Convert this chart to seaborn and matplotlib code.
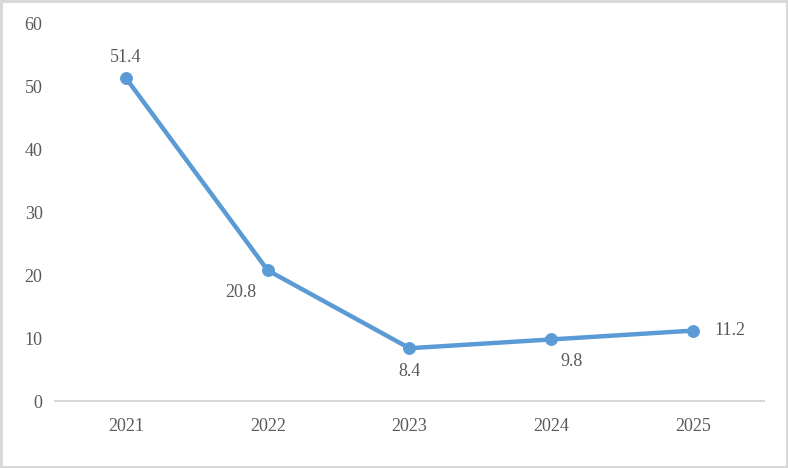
import matplotlib
matplotlib.use("Agg")
import matplotlib.pyplot as plt
import seaborn as sns
import pandas as pd

years = ["2021", "2022", "2023", "2024", "2025"]
values = [51.4, 20.8, 8.4, 9.8, 11.2]
# label offsets in pixels (dx, dy)
label_offsets = [(0, 21), (-27, -22), (0, -23), (20, -22), (37, 0)]

LINE_COLOR = "#5B9BD5"
TEXT_COLOR = "#595959"

sns.set_theme(style="white")
plt.rcParams["font.family"] = ["Liberation Serif", "DejaVu Serif"]

df = pd.DataFrame({"year": years, "value": values})

fig = plt.figure(figsize=(7.88, 4.68), dpi=100)
fig.patch.set_edgecolor("#D9D9D9")
fig.patch.set_linewidth(2.5)
ax = fig.add_axes([55 / 788, 67 / 468, 709 / 788, 377 / 468])

sns.lineplot(data=df, x="year", y="value", ax=ax, color=LINE_COLOR,
             linewidth=3.2, marker="o", markersize=8.5,
             markeredgecolor=LINE_COLOR, sort=False)

for i, (v, (dx, dy)) in enumerate(zip(values, label_offsets)):
    ax.annotate(f"{v}", (i, v), xytext=(dx, dy), textcoords="offset pixels",
                ha="center", va="center", fontsize=13, color=TEXT_COLOR)

ax.set_xlim(-0.5, len(years) - 0.5)
ax.set_ylim(0, 60)
ax.set_yticks(range(0, 61, 10))
ax.set_xlabel("")
ax.set_ylabel("")
for side in ["top", "right", "left"]:
    ax.spines[side].set_visible(False)
ax.spines["bottom"].set_color("#D9D9D9")
ax.spines["bottom"].set_linewidth(1.5)
ax.tick_params(axis="both", length=0, labelsize=13, colors=TEXT_COLOR)
ax.tick_params(axis="y", pad=9)
ax.tick_params(axis="x", pad=12)
ax.grid(False)

fig.savefig("out.png", dpi=100, edgecolor=fig.get_edgecolor())
